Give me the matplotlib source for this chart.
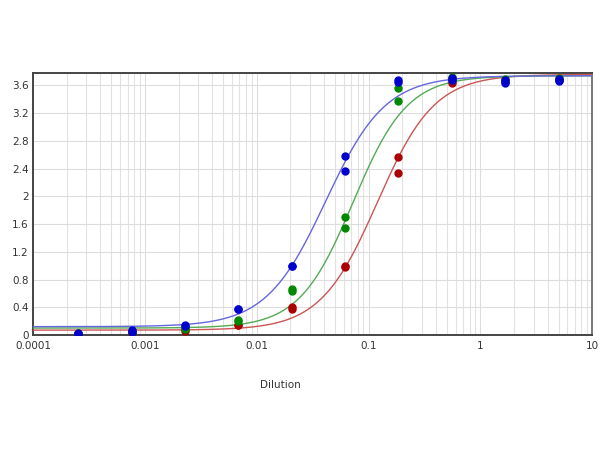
import numpy as np
import matplotlib.pyplot as plt
from matplotlib.ticker import FixedLocator, FuncFormatter

# 3-fold dilution series, duplicate readings per dilution
dilution = [0.000254, 0.000762, 0.00229, 0.00686, 0.0206, 0.0617, 0.185, 0.556, 1.667, 5.0]

blue_a = [0.03, 0.07, 0.15, 0.38, 1.00, 2.58, 3.68, 3.71, 3.68, 3.70]
blue_b = [0.02, 0.05, 0.13, 0.37, 0.99, 2.37, 3.65, 3.68, 3.63, 3.67]
green_a = [0.03, 0.06, 0.10, 0.22, 0.67, 1.70, 3.56, 3.72, 3.69, 3.71]
green_b = [0.02, 0.05, 0.08, 0.20, 0.64, 1.55, 3.37, 3.69, 3.66, 3.68]
red_a = [0.02, 0.04, 0.08, 0.15, 0.40, 1.00, 2.57, 3.66, 3.67, 3.69]
red_b = [0.02, 0.03, 0.06, 0.14, 0.38, 0.98, 2.33, 3.64, 3.65, 3.68]

# 4PL fit parameters: bottom, top, EC50, hill
blue_fit = (0.12, 3.74, 0.0414, 1.63)
green_fit = (0.10, 3.74, 0.073, 1.80)
red_fit = (0.07, 3.76, 0.12, 1.70)


def four_pl(x, bottom, top, ec50, hill):
    return bottom + (top - bottom) / (1 + (ec50 / x) ** hill)


fig = plt.figure(figsize=(6, 4.5), dpi=100)
ax = fig.add_axes([0.055, 0.2556, 0.932, 0.5822])

xs = np.logspace(-4, 1, 400)
series = [
    (red_fit, red_a, red_b, "#cc5555", "#aa0000"),
    (green_fit, green_a, green_b, "#55aa55", "#008800"),
    (blue_fit, blue_a, blue_b, "#6666dd", "#0000cc"),
]
for fit, ya, yb, line_c, pt_c in series:
    ax.plot(xs, four_pl(xs, *fit), color=line_c, lw=1.0, zorder=3)
    ax.plot(dilution, ya, "o", color=pt_c, ms=5, zorder=4)
    ax.plot(dilution, yb, "o", color=pt_c, ms=5, zorder=4)

ax.set_xscale("log")
ax.set_xlim(1e-4, 10)
ax.set_ylim(0, 3.78)
ax.yaxis.set_major_locator(FixedLocator(np.arange(0, 3.7, 0.4)))
ax.yaxis.set_major_formatter(FuncFormatter(lambda v, p: f"{v:.1f}".rstrip("0").rstrip(".")))
ax.xaxis.set_major_formatter(FuncFormatter(lambda v, p: f"{v:g}" if v >= 0.001 else "0.0001"))

ax.grid(True, which="major", color="#dddddd", lw=0.8)
ax.grid(True, which="minor", axis="x", color="#e2e2e2", lw=0.8)
ax.set_axisbelow(True)
ax.tick_params(which="both", length=0, labelsize=7.5, labelcolor="#333333", pad=4)
ax.tick_params(axis="y", pad=3)

for side in ["left", "bottom", "top"]:
    ax.spines[side].set_color("#444444")
    ax.spines[side].set_linewidth(1.4)
ax.spines["right"].set_color("#777777")
ax.spines["right"].set_linewidth(1.4)

fig.text(280 / 600, 1 - 385 / 450, "Dilution", ha="center", va="center", fontsize=7.5, color="#333333")

fig.savefig("out.png", dpi=100)
